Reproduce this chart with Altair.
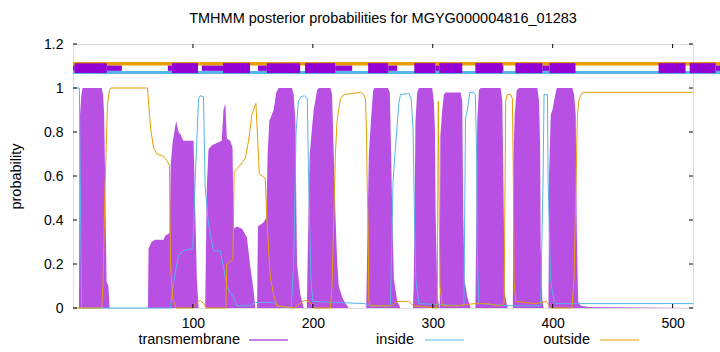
import altair as alt
import pandas as pd

TITLE = "TMHMM posterior probabilities for MGYG000004816_01283"
SEQ_LEN = 517

# transmembrane posterior (residue, probability)
tm_res = [0, 5, 5.5, 7, 8, 24, 25, 26, 27, 28, 29.5, 30.5,
          62.5, 63, 65.5, 68.5, 75.5, 77, 80.5, 81.5, 83, 86, 88, 89.5, 92, 100.5, 102, 103.3, 104.7,
          110.2, 111.6, 113, 115.8, 120, 124, 125.5, 127, 128.3, 131, 133, 134, 136.7, 141, 145, 147.8, 150.6, 152,
          153.5, 154.2, 159, 161.2, 162.3, 163.7, 167.3, 169.5, 171.5, 182.6, 184, 185.4, 186.8, 189.6, 192.4,
          195, 196, 197.4, 199.3, 200.7, 203.5, 205, 214.7, 216, 217.4, 218.8, 220.2, 221.6, 224.4, 227.2, 230,
          244.5, 246.7, 248.7, 250.3, 251.4, 262.6, 264.2, 265.3, 266.2, 267.6, 270.4, 273,
          283.5, 284.2, 285.6, 287, 288.4, 299.5, 300.9, 301.8, 302.4, 303.8, 305.5,
          305.8, 306.3, 307.9, 309.3, 310.7, 323.2, 324.6, 325.4, 326.5, 328.8, 331.5,
          335.5, 335.8, 337.1, 338.5, 339.9, 356.6, 358, 358.9, 360, 361.6, 362.5,
          366.8, 367.2, 368.3, 370, 371.9, 387.2, 388.6, 389.5, 390, 391.4, 392.5,
          396.5, 397, 398.4, 399.8, 401.1, 403.4, 416.4, 417.8, 419.2, 420.1, 421.2, 423.4, 430, 517]
tm_val = [0, 0, 0.85, 0.97, 1.0, 1.0, 0.97, 0.88, 0.5, 0.12, 0.1, 0,
          0, 0.27, 0.3, 0.31, 0.31, 0.33, 0.34, 0.65, 0.75, 0.85, 0.80, 0.79, 0.76, 0.76, 0.43, 0.13, 0,
          0, 0.55, 0.72, 0.74, 0.75, 0.76, 0.90, 0.93, 0.77, 0.76, 0.73, 0.36, 0.37, 0.36, 0.32, 0.19, 0.08, 0,
          0, 0.37, 0.39, 0.41, 0.70, 0.85, 0.9, 0.98, 1.0, 1.0, 0.97, 0.85, 0.2, 0.06, 0,
          0, 0.33, 0.70, 0.82, 0.9, 0.99, 1.0, 1.0, 0.97, 0.71, 0.43, 0.22, 0.1, 0.05, 0.02, 0,
          0, 0.70, 0.87, 0.99, 1.0, 1.0, 0.98, 0.69, 0.43, 0.13, 0.03, 0,
          0, 0.13, 0.85, 0.98, 1.0, 1.0, 0.94, 0.81, 0.43, 0.06, 0,
          0, 0.78, 0.9, 0.97, 0.98, 0.98, 0.94, 0.43, 0.13, 0.05, 0,
          0, 0.13, 0.85, 0.99, 1.0, 1.0, 0.94, 0.58, 0.07, 0.02, 0,
          0, 0.66, 0.88, 0.99, 1.0, 1.0, 0.94, 0.73, 0.28, 0.03, 0,
          0, 0.61, 0.88, 0.9, 0.94, 1.0, 1.0, 0.97, 0.88, 0.35, 0.03, 0.01, 0.005, 0]

# inside posterior
in_res = [0, 5.3, 6.2, 7.2, 81, 84, 88, 92.1, 99.9, 102, 104.7, 106, 108.8, 110.2, 113, 117.2, 122.8, 125,
          128.3, 131, 133.9, 136.7, 148, 152, 167.3, 170, 182, 184, 186, 188, 190, 193, 195.4, 196.5, 198.4,
          200, 243, 248, 264.7, 266.9, 268.9, 271.7, 273.1, 280, 282, 283.6, 284.7, 285.9, 288.4, 326, 327.3,
          328.8, 331, 334.3, 335.5, 336.6, 337.1, 338.5, 363, 390, 392, 392.8, 395.6, 396.2, 398.2, 401.1,
          402.5, 517]
in_val = [1.0, 1.0, 0.5, 0.0, 0.0, 0.12, 0.24, 0.26, 0.27, 0.6, 0.95, 0.965, 0.96, 0.55, 0.38, 0.26, 0.26, 0.2,
          0.1, 0.07, 0.05, 0.01, 0.01, 0.025, 0.025, 0.01, 0.0, 0.2, 0.8, 0.94, 0.96, 0.965, 0.95, 0.58, 0.13,
          0.03, 0.02, 0.01, 0.01, 0.58, 0.73, 0.93, 0.97, 0.975, 0.95, 0.81, 0.43, 0.13, 0.02, 0.01, 0.86,
          0.9, 0.98, 0.98, 0.97, 0.7, 0.25, 0.02, 0.01, 0.01, 0.6, 0.97, 0.97, 0.58, 0.13, 0.03,
          0.02, 0.02]

# outside posterior
out_res = [0, 23.9, 25, 26.7, 28.7, 30.3, 31.5, 62.1, 63.8, 64.9, 67.1, 69.9, 75.4, 78.2, 80.4, 81.3, 83.2, 86,
           100, 103, 106, 109, 111, 127.5, 128.2, 133.3, 134.4, 139.5, 143.6, 146.4, 149.2, 152.5, 153.9, 155.3,
           160.3, 161.7, 164.5, 167.3, 170, 185, 189, 193, 197, 201, 214.7, 216, 217.4, 218.8, 220.2, 221.6, 223,
           225.8, 239.7, 242.5, 243.9, 244.7, 245.3, 246.1, 246.7, 248.1, 266, 270, 280, 284, 303, 303.8, 304.6,
           306, 308, 320, 335, 345, 355, 359.5, 360.8, 362.2, 365, 366.4, 367.2, 367.8, 369.2, 385, 395, 398,
           416, 417.8, 419.2, 420.6, 422, 424.8, 517]
out_val = [0, 0, 0.1, 0.55, 0.92, 0.99, 1.0, 1.0, 0.88, 0.81, 0.73, 0.70, 0.69, 0.67, 0.65, 0.2, 0.04, 0.0,
           0.0, 0.02, 0.035, 0.02, 0, 0, 0.2, 0.22, 0.62, 0.65, 0.68, 0.76, 0.88, 0.93, 0.78, 0.61,
           0.59, 0.4, 0.14, 0.06, 0.01, 0.0, 0.02, 0.035, 0.03, 0.0, 0.0, 0.1, 0.4, 0.70, 0.85, 0.9, 0.95,
           0.97, 0.98, 0.97, 0.95, 0.81, 0.58, 0.35, 0.03, 0.01, 0.01, 0.03, 0.03, 0.01, 0.0, 0.03, 0.94,
           0.1, 0.01, 0.01, 0.02, 0.02, 0.01, 0.02, 0.94, 0.97, 0.97, 0.95, 0.58, 0.12, 0.03, 0.02, 0.03, 0.0,
           0.0, 0.13, 0.5, 0.88, 0.95, 0.98, 0.98]

# topology bar at the top (residue ranges)
thick_start = [1.5, 82.5, 125.1, 161.7, 193.5, 246.1, 284.6, 305.4, 335.5, 368.9, 397.3, 488.3, 514.2]
thick_end = [28.2, 104.2, 147.6, 189.4, 218.6, 262.8, 302.1, 324.6, 358.1, 391.4, 419.0, 510.8, 535.9]
thin_start = [0, 28.2, 79.1, 107.4, 154.3, 218.6, 262.8, 302.1, 356.4, 391.4, 535.9]
thin_end = [1.5, 40.7, 82.5, 125.1, 161.7, 232.8, 270.3, 305.4, 358.9, 397.3, 540]
band_start = [0]
band_end = [540]

x_ticks = [100, 200, 300, 400, 500]
y_ticks = [0, 0.2, 0.4, 0.6, 0.8, 1, 1.2]
legend_labels = ["transmembrane", "inside", "outside"]

C_TM = "#9400d3"
C_TM_FILL = "#b850e3"
C_IN = "#56b4e9"
C_OUT = "#e69f00"
FONT = "Liberation Sans"
FS = 14.5
FS_TICK = 14
W, H = 620, 264

xs = alt.Scale(domain=[0, SEQ_LEN], nice=False, zero=False)
ys = alt.Scale(domain=[0, 1.2], nice=False)

tm_df = pd.DataFrame({"r": tm_res, "p": tm_val})
in_df = pd.DataFrame({"r": in_res, "p": in_val})
out_df = pd.DataFrame({"r": out_res, "p": out_val})

base_x = alt.X("r:Q", scale=xs,
               axis=alt.Axis(values=x_ticks, title=None, ticks=False, domain=False, grid=False,
                             labelFont=FONT, labelFontSize=FS_TICK, labelColor="black", labelPadding=8))
base_y = alt.Y("p:Q", scale=ys,
               axis=alt.Axis(values=y_ticks, format="~g", title="probability", ticks=False, domain=False,
                             grid=False, labelFont=FONT, labelFontSize=FS_TICK, labelColor="black",
                             labelPadding=10, titleFont=FONT, titleFontSize=FS, titleFontWeight="normal",
                             titleColor="black", titleX=-57, titleY=H / 2, titleAngle=270,
                             titleAlign="center", titleBaseline="middle"))

tm_area = alt.Chart(tm_df).mark_area(color=C_TM_FILL, interpolate="linear").encode(x=base_x, y=base_y)
in_line = alt.Chart(in_df).mark_line(color=C_IN, strokeWidth=1).encode(x="r:Q", y="p:Q")
out_line = alt.Chart(out_df).mark_line(color=C_OUT, strokeWidth=1).encode(x="r:Q", y="p:Q")

band_df = pd.DataFrame({"s": band_start, "e": band_end})
out_band = alt.Chart(band_df).mark_rule(color=C_OUT, strokeWidth=3.5).encode(
    x=alt.X("s:Q", scale=xs), x2="e:Q", y=alt.datum(1.11, scale=ys))
in_band = alt.Chart(band_df).mark_rule(color=C_IN, strokeWidth=3).encode(
    x=alt.X("s:Q", scale=xs), x2="e:Q", y=alt.datum(1.07, scale=ys))

thick_df = pd.DataFrame({"s": thick_start, "e": thick_end})
thin_df = pd.DataFrame({"s": thin_start, "e": thin_end})
thick = alt.Chart(thick_df).mark_rect(color=C_TM).encode(
    x=alt.X("s:Q", scale=xs), x2="e:Q", y=alt.datum(1.113, scale=ys), y2=alt.datum(1.068))
thin = alt.Chart(thin_df).mark_rect(color=C_TM).encode(
    x=alt.X("s:Q", scale=xs), x2="e:Q", y=alt.datum(1.102, scale=ys), y2=alt.datum(1.078))

# inward tick marks (gnuplot style, mirrored)
xt_df = pd.DataFrame({"r": x_ticks})
yt_df = pd.DataFrame({"p": y_ticks})
TL = 4
xt_bot = alt.Chart(xt_df).mark_rule(color="black").encode(
    x=alt.X("r:Q", scale=xs), y=alt.value(H), y2=alt.value(H - TL))
xt_top = alt.Chart(xt_df).mark_rule(color="black").encode(
    x=alt.X("r:Q", scale=xs), y=alt.value(0), y2=alt.value(TL))
yt_left = alt.Chart(yt_df).mark_rule(color="black").encode(
    y=alt.Y("p:Q", scale=ys), x=alt.value(0), x2=alt.value(TL))
yt_right = alt.Chart(yt_df).mark_rule(color="black").encode(
    y=alt.Y("p:Q", scale=ys), x=alt.value(W - TL), x2=alt.value(W))

# legend (gnuplot style: label then sample line)
legend_layers = []
LY = 296
for lab, col, tx, lx in zip(legend_labels, [C_TM, C_IN, C_OUT], [167, 341, 517], [176, 352, 527]):
    d = pd.DataFrame({"t": [lab]})
    legend_layers.append(alt.Chart(d).mark_text(align="right", baseline="middle", font=FONT, fontSize=FS,
                                                color="black").encode(text="t:N", x=alt.value(tx), y=alt.value(LY)))
    legend_layers.append(alt.Chart(d).mark_rule(color=col, strokeWidth=1).encode(
        x=alt.value(lx), x2=alt.value(lx + 39), y=alt.value(LY)))

chart = alt.layer(
    tm_area, in_line, out_line, out_band, in_band, thick, thin,
    xt_bot, xt_top, yt_left, yt_right, *legend_layers
).properties(
    width=W, height=H,
    title=alt.TitleParams(TITLE, font=FONT, fontSize=FS, fontWeight="normal", color="black",
                          anchor="middle", offset=11),
    autosize=alt.AutoSizeParams(type="none"),
    padding={"left": 73, "top": 44, "right": 27, "bottom": 44},
).configure_view(stroke="black", strokeWidth=1).configure(background="white")

chart.save("out.html", embed_options={"renderer": "svg", "actions": False})
